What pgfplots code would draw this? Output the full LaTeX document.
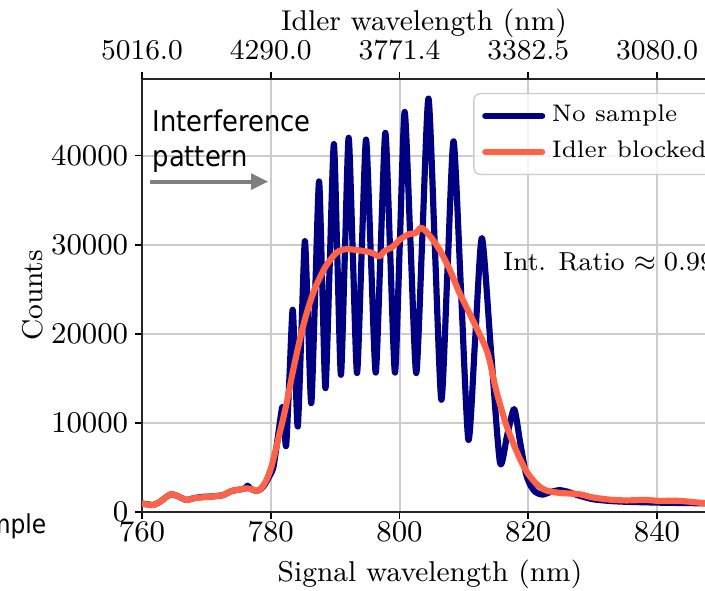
\documentclass[border=0pt]{standalone}
\usepackage{pgfplots}
\usepackage{pgfplotstable}
\pgfplotsset{compat=1.18}
\usepackage{fontspec}
\newfontfamily\annotfont{DejaVu Sans Condensed}
\usetikzlibrary{arrows.meta}

\definecolor{navyline}{HTML}{000080}
\definecolor{tomatoline}{HTML}{FF6347}
\definecolor{gridgray}{HTML}{CCCCCC}
\definecolor{arrowgray}{HTML}{7F7F7F}

\newcommand{\labfont}{\fontsize{8.6}{10}\selectfont}
\newcommand{\legfont}{\fontsize{7.2}{8.5}\selectfont}

% Spectrum with both arms open: fringes on top of the signal envelope
\pgfplotstableread{
lambda counts
760.0 950
761.0 850
761.8 800
762.8 1150
764.0 1800
764.6 2000
765.5 1800
766.9 1350
768.0 1550
769.5 1700
771.0 1750
772.6 1900
773.9 2350
775.0 2500
776.0 2650
776.4 2950
776.9 2600
777.8 2350
778.3 2500
779.0 3000
779.7 3900
780.4 5000
781.1 8400
781.8 11800
782.1 9650
782.4 7500
782.9 15100
783.4 22700
783.8 16150
784.2 9600
784.75 20000
785.3 30400
785.8 21300
786.3 12200
786.9 24650
787.5 37100
788.0 25500
788.5 13900
789.15 27600
789.8 41300
790.35 28350
790.9 15400
791.5 28700
792.1 42000
792.75 28800
793.4 15600
794.1 28700
794.8 41800
795.55 28725
796.3 15650
797.05 29100
797.8 42550
798.55 29100
799.3 15650
800.05 30275
800.8 44900
801.7 30250
802.6 15600
803.55 31000
804.5 46400
805.5 29500
806.5 12600
807.45 27100
808.4 41600
809.55 24850
810.7 8100
811.75 19425
812.8 30750
814.2 18150
815.6 5550
816.7 8550
817.8 11550
818.7 7975
819.6 4400
820.4 2900
821.2 2200
822.2 1950
823.5 2250
824.8 2450
826.0 2300
827.4 1950
829.9 1450
832.5 1250
835.1 1150
840.3 1050
845.0 1000
849.0 950
}\nosample

% Spectrum with the idler arm blocked: no interference
\pgfplotstableread{
lambda counts
760.0 950
761.0 820
761.8 800
762.8 1150
764.0 1800
764.6 2000
765.5 1800
766.9 1350
768.0 1550
769.5 1650
771.0 1750
772.6 1900
773.9 2350
775.0 2500
776.2 2650
777.0 2550
777.8 2350
778.3 2500
779.2 3400
780.1 5100
781.4 8900
782.4 12000
783.5 16000
785.0 20800
786.6 24600
788.4 27400
790.2 29100
791.7 29500
793.3 29400
794.8 29250
795.8 29050
796.9 28700
797.6 29250
799.0 29800
800.0 30550
801.5 31200
802.5 31300
803.4 31900
804.7 31000
806.2 29450
807.8 27200
809.3 24600
810.6 22700
812.1 20450
813.7 17800
815.0 13700
816.5 9950
818.1 6950
819.6 4700
821.2 3200
822.7 2450
824.8 2150
827.9 2000
829.9 1650
832.5 1400
835.1 1300
838.2 1350
840.3 1250
843.4 1250
847.3 1000
849.0 950
}\idlerblocked

\pgfplotsset{
  frame/.style={
    scale only axis,
    width=171.9pt, height=129.9pt,
    xmin=760, xmax=849, ymin=0, ymax=48600,
    tick label style={font=\labfont},
    label style={font=\labfont},
    major tick length=2.1pt,
    tick style={black, line width=0.5pt},
    axis line style={black!85, line width=0.55pt},
  },
}

\begin{document}
\begin{tikzpicture}
\begin{axis}[
  frame,
  xtick={760,780,...,840},
  ytick={0,10000,...,40000},
  xtick pos=left, ytick pos=left,
  tick align=outside,
  scaled y ticks=false,
  xticklabel style={yshift=2.7pt},
  yticklabel style={xshift=1.5pt, /pgf/number format/.cd, fixed, set thousands separator={}},
  grid=major,
  major grid style={gridgray, line width=0.6pt},
  xlabel={Signal wavelength (nm)},
  ylabel={Counts},
  xlabel style={at={(axis description cs:0.5026,-0.161)}, anchor=base},
  ylabel style={at={(axis description cs:-0.19,0.5)}, anchor=center},
  legend style={at={(0.578,0.968)}, anchor=north west, draw=black!20,
    rounded corners=2pt, fill=white, fill opacity=0.8, text opacity=1,
    font=\legfont, inner xsep=2.5pt, inner ysep=1.5pt, row sep=0.3pt},
  legend cell align=left,
]
\addplot[navyline, line width=1.85pt, line join=round, line cap=round,
  smooth, tension=0.42] table {\nosample};
\addlegendentry{No sample}
\addplot[tomatoline, line width=1.85pt, line join=round, line cap=round,
  smooth] table {\idlerblocked};
\addlegendentry{Idler blocked}

\node[anchor=base west, inner sep=0pt, font=\annotfont\fontsize{8.6}{10}\selectfont]
  at (axis cs:761.55,42700) {Interference};
\node[anchor=base west, inner sep=0pt, font=\annotfont\fontsize{8.6}{10}\selectfont]
  at (axis cs:761.55,38730) {pattern};
\draw[arrowgray, line width=1.2pt, -{Triangle[length=5.1pt,width=4.6pt]}]
  (axis cs:761.24,37080) -- (axis cs:779.6,37080);
\node[anchor=base west, inner sep=0pt, font=\fontsize{7.8}{9}\selectfont]
  at (axis cs:816,27100) {Int. Ratio $\approx 0.99$};
\end{axis}

% idler wavelengths matching the signal ticks
\begin{axis}[
  frame,
  axis x line*=top,
  axis y line=none,
  tick align=outside,
  xtick={760,780,...,840},
  xticklabels={5016.0,4290.0,3771.4,3382.5,3080.0},
  xlabel={Idler wavelength (nm)},
  xlabel style={at={(axis description cs:0.492,1.113)}, anchor=base},
]
\addplot[draw=none] coordinates {(760,0)};
\end{axis}

\node[anchor=base east, inner sep=0pt, font=\annotfont\fontsize{7.8}{9}\selectfont]
  at (-28.5pt,-6.3pt) {Sample};

\pgfresetboundingbox
\useasboundingbox (-42.6pt,-23.4pt) rectangle (168.9pt,153.6pt);
\end{tikzpicture}
\end{document}
